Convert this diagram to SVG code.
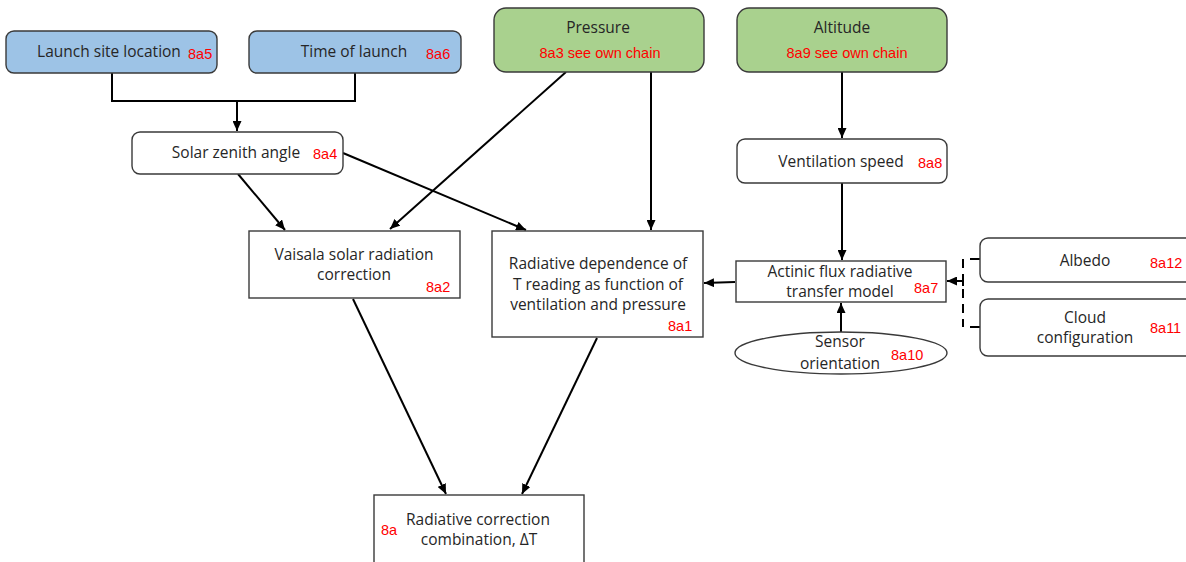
<svg xmlns="http://www.w3.org/2000/svg" width="1186" height="562" viewBox="0 0 1186 562">
  <defs>
    <marker id="arrow" markerUnits="userSpaceOnUse" markerWidth="10" markerHeight="9" refX="10" refY="4.5" orient="auto">
      <path d="M0,0 L10,4.5 L0,9 z" fill="#000"/>
    </marker>
    <style>
      .box { fill: #fff; stroke: #3a3a3a; stroke-width: 1.4; }
      .blue { fill: #9dc3e6; }
      .green { fill: #a9d18e; }
      .lbl { font-family: "Open Sans", "Noto Sans", sans-serif; font-size: 15.5px; fill: #262626; text-anchor: middle; }
      .code { font-family: "Liberation Sans", Arial, sans-serif; font-size: 14.5px; fill: #ff0000; }
      .mid { text-anchor: middle; }
      .link { fill: none; stroke: #000; stroke-width: 2; }
      .arr { marker-end: url(#arrow); }
      .dash { stroke-dasharray: 9 6; }
    </style>
  </defs>

  <rect width="1186" height="562" fill="#fff"/>

  <!-- connectors -->
  <g id="connectors">
    <path class="link" d="M112,73 V101 H355 V73"/>
    <path class="link arr" d="M237,101 V131"/>
    <path class="link arr" d="M238,174 L285,230"/>
    <path class="link arr" d="M343,153 L526,230"/>
    <path class="link arr" d="M566,72 L390,229"/>
    <path class="link arr" d="M651,72 V230"/>
    <path class="link arr" d="M842,72 V138"/>
    <path class="link arr" d="M842,183 V260"/>
    <path class="link arr" d="M735,282 L704,283"/>
    <path class="link arr" d="M841,332 V303"/>
    <path class="link" d="M970,259 H980 M970,327 H980"/>
    <path class="link dash" d="M963,259 V327"/>
    <path class="link arr" d="M963,281 H947"/>
    <path class="link" d="M963,276 V286"/>
    <path class="link arr" d="M353,299 L446,494"/>
    <path class="link arr" d="M597,338 L522,494"/>
  </g>

  <!-- inputs -->
  <g id="launch-site">
    <rect class="box blue" x="6" y="31" width="211" height="42" rx="8"/>
    <text class="lbl" x="109" y="57">Launch site location</text>
    <text class="code" x="188" y="59">8a5</text>
  </g>
  <g id="launch-time">
    <rect class="box blue" x="249" y="31" width="212" height="42" rx="8"/>
    <text class="lbl" x="354" y="57">Time of launch</text>
    <text class="code" x="426" y="59">8a6</text>
  </g>
  <g id="pressure">
    <rect class="box green" x="494" y="8" width="210" height="64" rx="12"/>
    <text class="lbl" x="598" y="33">Pressure</text>
    <text class="code mid" x="600" y="58">8a3 see own chain</text>
  </g>
  <g id="altitude">
    <rect class="box green" x="737" y="8" width="210" height="64" rx="12"/>
    <text class="lbl" x="842" y="33">Altitude</text>
    <text class="code mid" x="847" y="58">8a9 see own chain</text>
  </g>

  <!-- intermediate quantities -->
  <g id="solar-zenith">
    <rect class="box" x="132" y="132" width="211" height="42" rx="8"/>
    <text class="lbl" x="236" y="158">Solar zenith angle</text>
    <text class="code" x="313" y="159">8a4</text>
  </g>
  <g id="ventilation">
    <rect class="box" x="737" y="139" width="210" height="44" rx="8"/>
    <text class="lbl" x="841" y="167">Ventilation speed</text>
    <text class="code" x="918" y="168">8a8</text>
  </g>
  <g id="vaisala">
    <rect class="box" x="249" y="231" width="211" height="67"/>
    <text class="lbl" x="354" y="260">Vaisala solar radiation</text>
    <text class="lbl" x="354" y="280">correction</text>
    <text class="code" x="426" y="292">8a2</text>
  </g>
  <g id="radiative-dependence">
    <rect class="box" x="492" y="231" width="211" height="106"/>
    <text class="lbl" x="598" y="269">Radiative dependence of</text>
    <text class="lbl" x="598" y="290">T reading as function of</text>
    <text class="lbl" x="598" y="310">ventilation and pressure</text>
    <text class="code" x="668" y="331">8a1</text>
  </g>
  <g id="actinic-flux">
    <rect class="box" x="736" y="261" width="210" height="41"/>
    <text class="lbl" x="840" y="277">Actinic flux radiative</text>
    <text class="lbl" x="840" y="297">transfer model</text>
    <text class="code" x="914" y="293">8a7</text>
  </g>
  <g id="sensor-orientation">
    <ellipse class="box" cx="841" cy="353" rx="106" ry="21"/>
    <text class="lbl" x="840" y="347">Sensor</text>
    <text class="lbl" x="840" y="369">orientation</text>
    <text class="code" x="891" y="360">8a10</text>
  </g>
  <g id="albedo">
    <rect class="box" x="980" y="238" width="214" height="44" rx="8"/>
    <text class="lbl" x="1085" y="266">Albedo</text>
    <text class="code" x="1150" y="268">8a12</text>
  </g>
  <g id="cloud">
    <rect class="box" x="980" y="299" width="214" height="57" rx="8"/>
    <text class="lbl" x="1085" y="323">Cloud</text>
    <text class="lbl" x="1085" y="343">configuration</text>
    <text class="code" x="1150" y="333">8a11</text>
  </g>

  <!-- result -->
  <g id="combination">
    <rect class="box" x="374" y="495" width="210" height="80"/>
    <text class="lbl" x="478" y="525">Radiative correction</text>
    <text class="lbl" x="479" y="545">combination, ΔT</text>
    <text class="code" x="381" y="535">8a</text>
  </g>
</svg>
